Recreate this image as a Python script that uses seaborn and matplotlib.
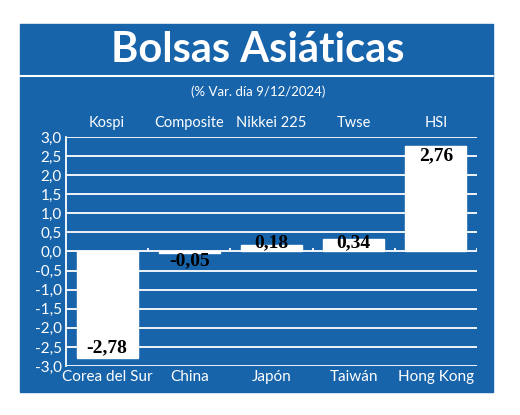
"""Bolsas Asiáticas - daily % change bar chart."""
import matplotlib
matplotlib.use("Agg")
import matplotlib.pyplot as plt
import pandas as pd
import seaborn as sns
from matplotlib.patches import Rectangle

sns.set_theme(style="white")
plt.rcParams["font.family"] = ["Lato", "DejaVu Sans"]

BLUE = "#1764ab"

countries = ["Corea del Sur", "China", "Japón", "Taiwán", "Hong Kong"]
indices = ["Kospi", "Composite", "Nikkei 225", "Twse", "HSI"]
changes = [-2.78, -0.05, 0.18, 0.34, 2.76]
yticks = [-3.0, -2.5, -2.0, -1.5, -1.0, -0.5, 0.0, 0.5, 1.0, 1.5, 2.0, 2.5, 3.0]

df = pd.DataFrame({"country": countries, "index": indices, "change": changes})

W, H = 520, 415
fig = plt.figure(figsize=(W / 100, H / 100), dpi=100)
fig.patch.set_facecolor("white")

# blue panel + title band separator
fig.add_artist(Rectangle((20 / W, 1 - 392 / H), 473 / W, 368 / H,
                         transform=fig.transFigure, color=BLUE, zorder=0))
fig.add_artist(plt.Line2D([20 / W, 493 / W], [1 - 76 / H, 1 - 76 / H],
                          transform=fig.transFigure, color="white", lw=1.5))
fig.text(258 / W, 1 - 50 / H, "Bolsas Asiáticas", ha="center", va="center",
         color="white", fontsize=30, fontweight="bold")
fig.text(258 / W, 1 - 92 / H, "(% Var. día 9/12/2024)", ha="center", va="center",
         color="white", fontsize=9.5)

ax = fig.add_axes([66 / W, 1 - 366 / H, 411 / W, 229 / H])
ax.set_facecolor(BLUE)
sns.barplot(data=df, x="country", y="change", color="white", saturation=1,
            width=0.74, ax=ax, zorder=3)
ax.set_xlim(-0.5, len(countries) - 0.5)
ax.set_ylim(-3, 3)
ax.set_yticks(yticks)
ax.set_yticklabels([f"{v:.1f}".replace(".", ",") for v in yticks],
                   color="white", fontsize=11)
ax.set_xticks(range(len(countries)))
ax.set_xticklabels(countries, color="white", fontsize=11)
ax.tick_params(axis="both", length=0, pad=3)
ax.set_xlabel(""); ax.set_ylabel("")
for v in yticks:
    ax.axhline(v, color="white", lw=1.3, zorder=1)
for s in ["top", "right", "bottom"]:
    ax.spines[s].set_visible(False)
ax.spines["left"].set_color("white")
ax.spines["left"].set_linewidth(1.3)
# small ticks on the zero line between categories
ax.vlines([i + 0.5 for i in range(len(countries))], 0, 0.1, color="white",
          lw=1.3, zorder=2)

# index names above the plot
for i, name in enumerate(indices):
    ax.text(i, 3.18, name, ha="center", va="bottom", color="white", fontsize=10.5)

# value labels
for i, v in enumerate(changes):
    sign = 1 if v >= 0 else -1
    y = sign * max(abs(v) - 0.26, 0.24)
    ax.text(i, y, f"{v:.2f}".replace(".", ","), ha="center", va="center",
            color="black", fontsize=14, fontweight="bold",
            family="Liberation Serif", zorder=5)

fig.savefig("out.png", dpi=100)
